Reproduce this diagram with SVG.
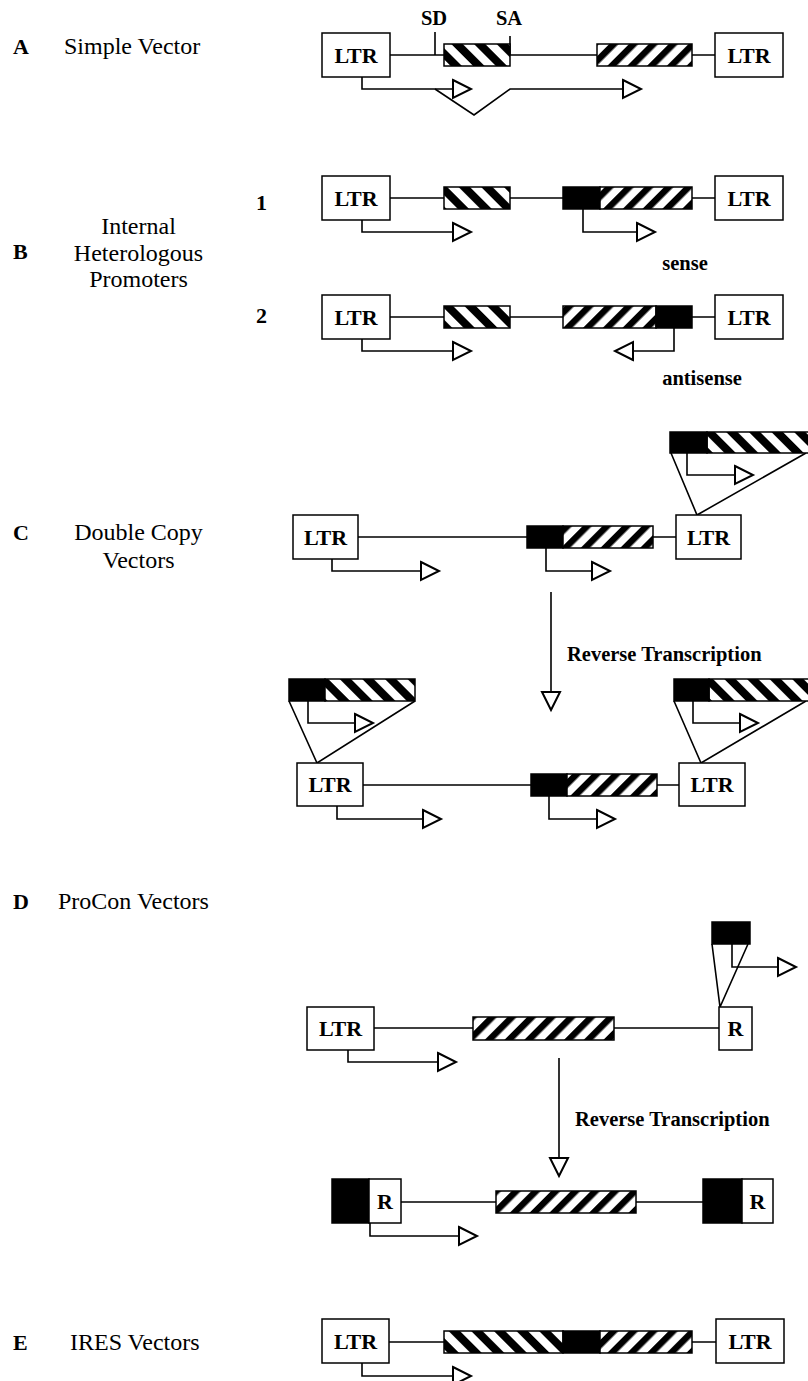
<svg xmlns="http://www.w3.org/2000/svg" width="808" height="1381" viewBox="0 0 808 1381">
<style>
.bx{fill:#fff;stroke:#000;stroke-width:1.5}
.hf{fill:url(#fwd);stroke:#000;stroke-width:1.5}
.hb{fill:url(#back);stroke:#000;stroke-width:1.5}
.bk{fill:#000;stroke:#000;stroke-width:1.5}
.ln{fill:none;stroke:#000;stroke-width:1.6}
.pr{fill:none;stroke:#000;stroke-width:1.6;marker-end:url(#ar)}
.lb{font-family:"Liberation Serif","Times New Roman",serif;font-weight:bold;font-size:22px;text-anchor:middle}
.sm{font-family:"Liberation Serif","Times New Roman",serif;font-weight:bold;font-size:20.5px}
.ti{font-family:"Liberation Serif","Times New Roman",serif;font-size:24px}
.le{font-family:"Liberation Serif","Times New Roman",serif;font-weight:bold;font-size:22px}
</style>
<defs>
<pattern id="fwd" patternUnits="userSpaceOnUse" width="14" height="14" patternTransform="rotate(45)">
<rect width="14" height="14" fill="#fff"/><rect width="6.5" height="14" fill="#000"/>
</pattern>
<pattern id="back" patternUnits="userSpaceOnUse" width="16" height="16" patternTransform="rotate(-45)">
<rect width="16" height="16" fill="#fff"/><rect width="8" height="16" fill="#000"/>
</pattern>
<marker id="ar" markerUnits="userSpaceOnUse" markerWidth="24" markerHeight="24" refX="1" refY="10" viewBox="0 0 24 20" orient="auto" overflow="visible">
<path d="M1,1 L19,10 L1,19 Z" fill="#fff" stroke="#000" stroke-width="2"/>
</marker>
</defs>

<g id="labels">
<text class="le" x="13" y="54">A</text><text class="ti" x="64" y="54">Simple Vector</text>
<text class="le" x="13" y="259">B</text>
<text class="ti" x="138.5" y="234" text-anchor="middle">Internal</text>
<text class="ti" x="138.5" y="261" text-anchor="middle">Heterologous</text>
<text class="ti" x="138.5" y="287" text-anchor="middle">Promoters</text>
<text class="le" x="256" y="210">1</text>
<text class="le" x="256" y="323">2</text>
<text class="le" x="13" y="540">C</text>
<text class="ti" x="138.5" y="540" text-anchor="middle">Double Copy</text>
<text class="ti" x="138.5" y="568" text-anchor="middle">Vectors</text>
<text class="le" x="13" y="909">D</text><text class="ti" x="58" y="909">ProCon Vectors</text>
<text class="le" x="13" y="1350">E</text><text class="ti" x="70" y="1350">IRES Vectors</text>
<text class="sm" x="434" y="25" text-anchor="middle">SD</text>
<text class="sm" x="509" y="25" text-anchor="middle">SA</text>
<text class="sm" x="685" y="270" text-anchor="middle">sense</text>
<text class="sm" x="702" y="385" text-anchor="middle">antisense</text>
<text class="sm" x="567" y="661">Reverse Transcription</text>
<text class="sm" x="575" y="1126">Reverse Transcription</text>
</g>

<g id="connectors">
<path class="ln" d="M390,55 H444 M510,55 H597 M692,55 H715"/>
<path class="ln" d="M435,32 V55 M510,36 V55"/>
<path class="pr" d="M362,77 V89 H453"/>
<path class="pr" d="M435,89 L474,115 L510,89 H623"/>
<path class="ln" d="M390,198 H444 M510,198 H563 M692,198 H715"/>
<path class="pr" d="M362,220 V232 H453"/>
<path class="pr" d="M583,209 V232 H637"/>
<path class="ln" d="M390,317 H444 M510,317 H563 M692,317 H715"/>
<path class="pr" d="M362,339 V351 H453"/>
<path class="pr" d="M674,328 V351 H633"/>
<path class="ln" d="M358,537 H527 M653,537 H676"/>
<path class="ln" d="M671,453 L697,515 L806,453"/>
<path class="pr" d="M687,453 V475 H735"/>
<path class="pr" d="M332,559 V571 H421"/>
<path class="pr" d="M546,548 V571 H592"/>
<path class="pr" d="M551,592 V692"/>
<path class="ln" d="M363,785 H531 M657,785 H679"/>
<path class="ln" d="M289,701 L317,763 L415,701"/>
<path class="ln" d="M674,701 L701,763 L806,701"/>
<path class="pr" d="M308,701 V723 H355"/>
<path class="pr" d="M693,701 V723 H740"/>
<path class="pr" d="M337,806 V819 H423"/>
<path class="pr" d="M549,796 V819 H597"/>
<path class="ln" d="M374,1028 H473 M614,1028 H719"/>
<path class="ln" d="M712,944 L720,1007 L748,944"/>
<path class="pr" d="M732,944 V967 H778"/>
<path class="pr" d="M348,1050 V1062 H438"/>
<path class="pr" d="M559,1058 V1158"/>
<path class="ln" d="M401,1202 H496 M636,1202 H703"/>
<path class="pr" d="M370,1223 V1236 H459"/>
<path class="ln" d="M389,1342 H444 M692,1342 H716"/>
<path class="pr" d="M362,1363 V1376 H453"/>
</g>

<g id="A-ltr1"><rect class="bx" x="322" y="33" width="68" height="44"/><text class="lb" x="356" y="63">LTR</text></g>
<g id="A-exon1"><rect class="hb" x="444" y="44" width="66" height="22"/></g>
<g id="A-gene"><rect class="hf" x="597" y="44" width="95" height="22"/></g>
<g id="A-ltr2"><rect class="bx" x="715" y="33" width="68" height="44"/><text class="lb" x="749" y="63">LTR</text></g>

<g id="B1-ltr1"><rect class="bx" x="322" y="176" width="68" height="44"/><text class="lb" x="356" y="206">LTR</text></g>
<g id="B1-gene1"><rect class="hb" x="444" y="187" width="66" height="22"/></g>
<g id="B1-prom"><rect class="bk" x="563" y="187" width="37" height="22"/></g>
<g id="B1-gene2"><rect class="hf" x="600" y="187" width="92" height="22"/></g>
<g id="B1-ltr2"><rect class="bx" x="715" y="176" width="68" height="44"/><text class="lb" x="749" y="206">LTR</text></g>

<g id="B2-ltr1"><rect class="bx" x="322" y="295" width="68" height="44"/><text class="lb" x="356" y="325">LTR</text></g>
<g id="B2-gene1"><rect class="hb" x="444" y="306" width="66" height="22"/></g>
<g id="B2-gene2"><rect class="hf" x="563" y="306" width="93" height="22"/></g>
<g id="B2-prom"><rect class="bk" x="656" y="306" width="36" height="22"/></g>
<g id="B2-ltr2"><rect class="bx" x="715" y="295" width="68" height="44"/><text class="lb" x="749" y="325">LTR</text></g>

<g id="C1-ltr1"><rect class="bx" x="293" y="515" width="65" height="44"/><text class="lb" x="325.5" y="545">LTR</text></g>
<g id="C1-prom"><rect class="bk" x="527" y="526" width="36" height="22"/></g>
<g id="C1-gene"><rect class="hf" x="563" y="526" width="90" height="22"/></g>
<g id="C1-ltr2"><rect class="bx" x="676" y="515" width="65" height="44"/><text class="lb" x="708.5" y="545">LTR</text></g>
<g id="C1-insert"><rect class="hb" x="707" y="432" width="110" height="21"/><rect class="bk" x="670" y="432" width="37" height="21"/></g>

<g id="C2-insert1"><rect class="bk" x="289" y="679" width="36" height="22"/><rect class="hb" x="325" y="679" width="90" height="22"/></g>
<g id="C2-ltr1"><rect class="bx" x="297" y="763" width="66" height="43"/><text class="lb" x="330" y="792">LTR</text></g>
<g id="C2-prom"><rect class="bk" x="531" y="774" width="36" height="22"/></g>
<g id="C2-gene"><rect class="hf" x="567" y="774" width="90" height="22"/></g>
<g id="C2-ltr2"><rect class="bx" x="679" y="763" width="66" height="43"/><text class="lb" x="712" y="792">LTR</text></g>
<g id="C2-insert2"><rect class="hb" x="709" y="679" width="110" height="22"/><rect class="bk" x="674" y="679" width="35" height="22"/></g>

<g id="D1-insert"><rect class="bk" x="712" y="922" width="38" height="22"/></g>
<g id="D1-ltr"><rect class="bx" x="307" y="1007" width="67" height="43"/><text class="lb" x="340.5" y="1036">LTR</text></g>
<g id="D1-gene"><rect class="hf" x="473" y="1017" width="141" height="23"/></g>
<g id="D1-r"><rect class="bx" x="719" y="1007" width="33" height="43"/><text class="lb" x="735.5" y="1036">R</text></g>

<g id="D2-left"><rect class="bk" x="332" y="1179" width="37" height="44"/><rect class="bx" x="369" y="1179" width="32" height="44"/><text class="lb" x="385" y="1209">R</text></g>
<g id="D2-gene"><rect class="hf" x="496" y="1191" width="140" height="22"/></g>
<g id="D2-right"><rect class="bk" x="703" y="1179" width="39" height="44"/><rect class="bx" x="742" y="1179" width="31" height="44"/><text class="lb" x="757.5" y="1209">R</text></g>

<g id="E-ltr1"><rect class="bx" x="322" y="1319" width="67" height="44"/><text class="lb" x="355.5" y="1349">LTR</text></g>
<g id="E-cassette"><rect class="hb" x="444" y="1331" width="119" height="22"/><rect class="bk" x="563" y="1331" width="37" height="22"/><rect class="hf" x="600" y="1331" width="92" height="22"/></g>
<g id="E-ltr2"><rect class="bx" x="716" y="1319" width="68" height="44"/><text class="lb" x="750" y="1349">LTR</text></g>
</svg>
